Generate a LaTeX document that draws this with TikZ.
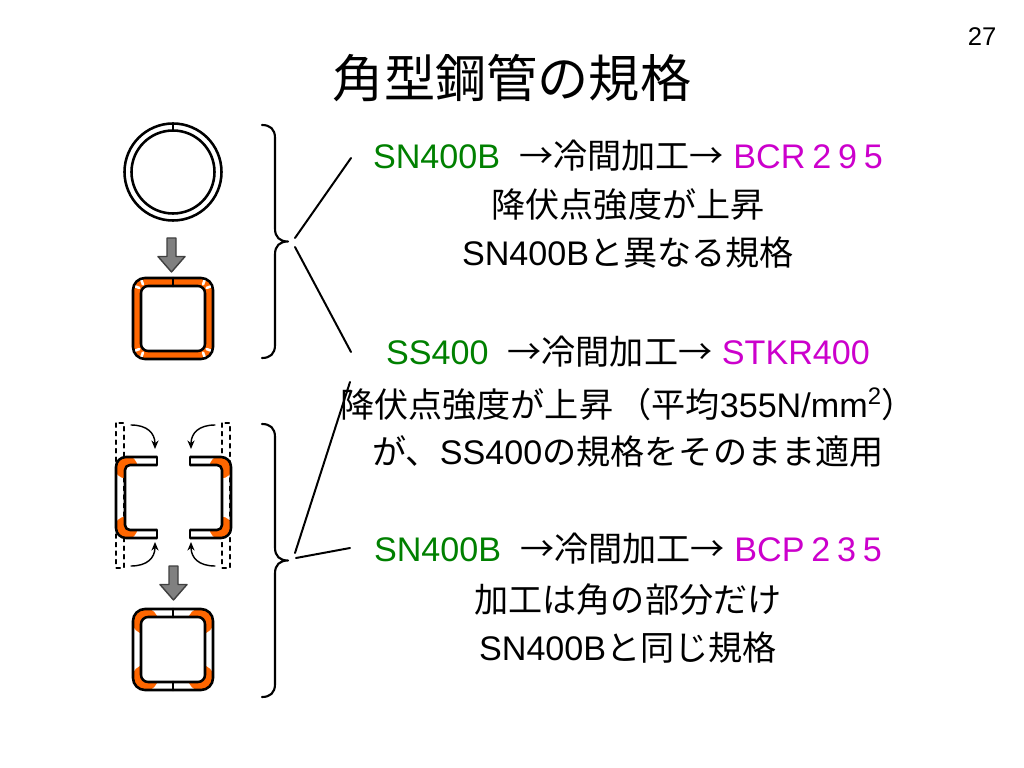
\documentclass[tikz,border=0pt]{standalone}
\usepackage{fontspec}
\usetikzlibrary{arrows.meta}
\setmainfont{Liberation Sans}
\newfontfamily\jp{Noto Sans CJK JP}
\definecolor{sngreen}{RGB}{0,128,0}
\definecolor{stdmag}{RGB}{204,0,204}
\definecolor{bendorange}{RGB}{255,102,0}
\definecolor{arrgray}{RGB}{128,128,128}
\tikzset{
  wall/.style={line width=1.8pt},
  downarrow/.style={fill=arrgray,draw=black!75,line width=1pt},
  guide/.style={dashed,line width=0.8pt},
  bendarrow/.style={->,line width=1pt},
  bracket/.style={line width=1.5pt},
  lead/.style={line width=1.4pt},
  row/.style={anchor=base,inner sep=0pt,font=\fontsize{24}{28}\selectfont},
}
\newcommand\wdig[1]{\hspace{0.2em}#1}
\begin{document}
\begin{tikzpicture}[x=0.703125pt,y=-0.703125pt,line join=round,line cap=round,>={Stealth[length=6pt,width=5pt]}]
	\useasboundingbox[fill=white] (0,0) rectangle (1024,768);
	\node (title) at (512,78) {\jp\fontsize{36}{40}\selectfont 角型鋼管の規格};
	\node (pageno) at (982,37) {\fontsize{18}{20}\selectfont 27};
	% round pipe
	\draw[wall] (173,172) circle (48.5) circle (41.5);
	\draw[wall] (173,123.5) -- (173,130.5);
	% gray arrows
	\foreach \ax/\ay in {171.5/238, 173.5/566}
	\draw[downarrow] (\ax-4.5,\ay) -- ++(9,0) -- ++(0,18.5) -- ++(9,0) -- (\ax,\ay+34) -- (\ax-13.5,\ay+18.5) -- ++(9,0) -- cycle;
	% cold formed square (BCR)
	\fill[bendorange,even odd rule] [rounded corners=8.4pt] (133,278) rectangle (213,359) [rounded corners=5pt] (141,286) rectangle (205,351);
	\foreach \cx/\cy/\a in {145/290/180, 201/290/270, 201/347/0, 145/347/90}
	\draw[white,line width=1.8pt] (\cx,\cy) ++(\a+20:6) -- ++(\a+20:8) (\cx,\cy) ++(\a+70:6) -- ++(\a+70:8);
	\draw[wall,rounded corners=8.4pt] (133,278) rectangle (213,359);
	\draw[wall,rounded corners=5pt] (141,286) rectangle (205,351);
	\draw[wall] (173,278) -- (173,286);
	% channels (BCP)
	\draw[guide] (116,423) rectangle (124,568);
	\draw[guide] (222,423) rectangle (230,568);
	\begin{scope}
	\clip (126,467) circle (11.5) (126,528) circle (11.5) (221,467) circle (11.5) (221,528) circle (11.5);
	\fill[bendorange,even odd rule] [rounded corners=7pt] (116,457) rectangle (200,538) [rounded corners=3.5pt] (125,465) rectangle (200,530);
	\fill[bendorange,even odd rule] [rounded corners=7pt] (147,457) rectangle (231,538) [rounded corners=3.5pt] (147,465) rectangle (222,530);
	\end{scope}
	\begin{scope}
	\clip (100,440) rectangle (157,560);
	\draw[wall,rounded corners=7pt] (116,457) rectangle (200,538);
	\draw[wall,rounded corners=3.5pt] (125,465) rectangle (200,530);
	\end{scope}
	\begin{scope}
	\clip (190,440) rectangle (250,560);
	\draw[wall,rounded corners=7pt] (147,457) rectangle (231,538);
	\draw[wall,rounded corners=3.5pt] (147,465) rectangle (222,530);
	\end{scope}
	\draw[wall] (157,457) -- (157,465) (157,530) -- (157,538) (190,457) -- (190,465) (190,530) -- (190,538);
	\draw[bendarrow] (131,425) .. controls (147,425) and (155,433) .. (155,449);
	\draw[bendarrow] (131,566) .. controls (147,566) and (155,558) .. (155,542);
	\draw[bendarrow] (215,425) .. controls (199,425) and (191,433) .. (191,449);
	\draw[bendarrow] (215,566) .. controls (199,566) and (191,558) .. (191,542);
	% welded square
	\begin{scope}
	\clip (145,621) circle (13) (201,621) circle (13) (201,678) circle (13) (145,678) circle (13);
	\fill[bendorange,even odd rule] [rounded corners=8.4pt] (133,609) rectangle (213,690) [rounded corners=5pt] (141,617) rectangle (205,682);
	\end{scope}
	\draw[wall,rounded corners=8.4pt] (133,609) rectangle (213,690);
	\draw[wall,rounded corners=5pt] (141,617) rectangle (205,682);
	\draw[wall] (173,609) -- (173,617) (173,682) -- (173,690);
	% braces
	\foreach \yt/\ym/\yb in {125/241.5/358, 424/560.5/697}
	\draw[bracket] (262,\yt) .. controls (270,\yt) and (275,\yt+4) .. (275,\yt+13) -- (275,\ym-13) .. controls (275,\ym-4) and (280,\ym) .. (288,\ym) .. controls (280,\ym) and (275,\ym+4) .. (275,\ym+13) -- (275,\yb-13) .. controls (275,\yb-4) and (270,\yb) .. (262,\yb);
	\coordinate (bA) at (295,238);
	\coordinate (tA) at (351,158);
	\coordinate (bB) at (295,247);
	\coordinate (tB) at (351,352);
	\coordinate (bC) at (295,553);
	\coordinate (tC) at (350,382);
	\coordinate (bD) at (296,558);
	\coordinate (tD) at (350,548);
	\draw[lead] (bA) -- (tA) (bB) -- (tB) (bC) -- (tC) (bD) -- (tD);
	% texts
	\node[row] (bcr1) at (628,169) {\color{sngreen}SN400B\ \ \color{black}{\jp →冷間加工→} \color{stdmag}BCR\wdig2\wdig9\wdig5};
	\node[row] (bcr2) at (628,218) {\jp 降伏点強度が上昇};
	\node[row] (bcr3) at (628,266) {SN400B{\jp と異なる規格}};
	\node[row] (stkr1) at (628,364) {\color{sngreen}SS400\ \ \color{black}{\jp →冷間加工→} \color{stdmag}STKR400};
	\node[row] (stkr2) at (628,417) {{\jp 降伏点強度が上昇\hspace{-0.1em} （平均}355N/mm\textsuperscript{2}{\jp ）}};
	\node[row] (stkr3) at (628,464) {{\jp が、}SS400{\jp の規格をそのまま適用}};
	\node[row] (bcp1) at (628,561) {\color{sngreen}SN400B\ \ \color{black}{\jp →冷間加工→} \color{stdmag}BCP\wdig2\wdig3\wdig5};
	\node[row] (bcp2) at (628,612) {\jp 加工は角の部分だけ};
	\node[row] (bcp3) at (628,660) {SN400B{\jp と同じ規格}};
\end{tikzpicture}
\end{document}
